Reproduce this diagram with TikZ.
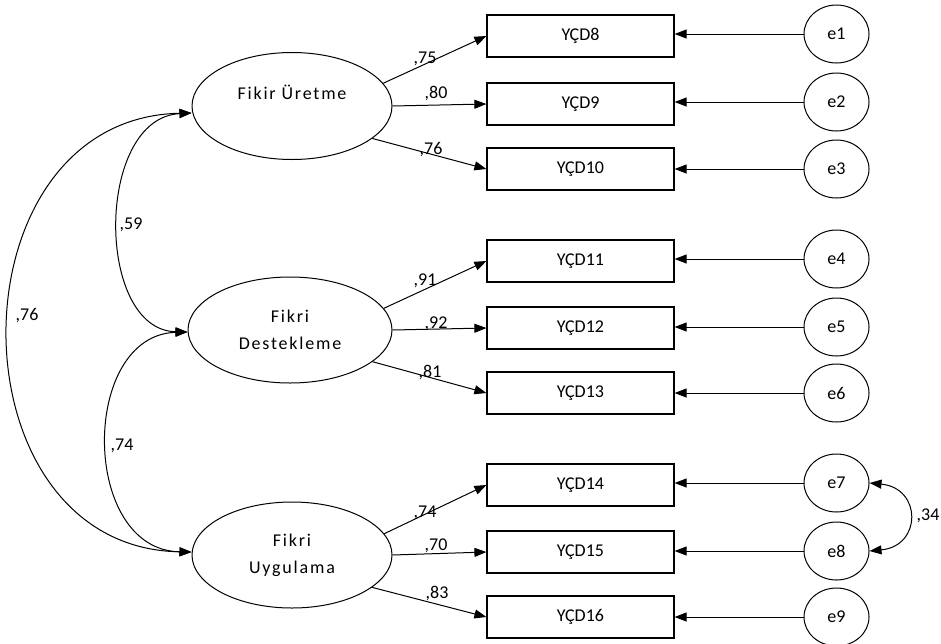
\documentclass[tikz,border=0pt]{standalone}
\usepackage{fontspec}
\setmainfont{Carlito}
\newfontfamily\wfont[LetterSpace=10]{Carlito}
\usetikzlibrary{shapes.geometric,arrows.meta,calc}
\begin{document}
\begin{tikzpicture}[x=1pt,y=-1pt,
  every node/.style={font=\fontsize{18}{21}\selectfont},
  lat/.style={ellipse, draw, line width=1pt, inner sep=0pt, align=center,
    minimum width=200pt, minimum height=107pt, font=\wfont\fontsize{18}{27}\selectfont},
  obs/.style={rectangle, draw, line width=1.2pt, minimum width=187pt, minimum height=42pt, inner sep=0pt},
  err/.style={ellipse, draw, line width=1pt, minimum width=65pt, minimum height=58pt, inner sep=0pt},
  arr/.style={-{Triangle[length=12pt,width=9pt]}, line width=1pt},
  cov/.style={{Triangle[length=12pt,width=9pt]}-{Triangle[length=12pt,width=9pt]}, line width=1pt},
  lbl/.style={anchor=base, inner sep=0pt}
]
\useasboundingbox (0,0) rectangle (941,643);

% latent variables
\node[lat] (ue) at (292,106) {Fikir Üretme\\ \mbox{}};
\node[lat, minimum width=204pt, minimum height=106pt] (fd) at (290,330) {Fikri\\Destekleme};
\node[lat, minimum height=106pt] (fu) at (292,555) {Fikri\\Uygulama};

% observed variables
\node[obs] (y8)  at (580.5,36)  {YÇD8};
\node[obs] (y9)  at (580.5,104) {YÇD9};
\node[obs] (y10) at (580.5,169) {YÇD10};
\node[obs] (y11) at (580.5,261) {YÇD11};
\node[obs] (y12) at (580.5,328) {YÇD12};
\node[obs] (y13) at (580.5,393) {YÇD13};
\node[obs] (y14) at (580.5,485) {YÇD14};
\node[obs] (y15) at (580.5,552) {YÇD15};
\node[obs] (y16) at (580.5,617) {YÇD16};

% error terms
\node[err] (e1) at (836.5,34)  {e1};
\node[err] (e2) at (836.5,102) {e2};
\node[err] (e3) at (836.5,169) {e3};
\node[err] (e4) at (836.5,259) {e4};
\node[err] (e5) at (836.5,327) {e5};
\node[err] (e6) at (836.5,393) {e6};
\node[err] (e7) at (836.5,483) {e7};
\node[err] (e8) at (836.5,551) {e8};
\node[err] (e9) at (836.5,617) {e9};

% loadings
\draw[arr] (ue.14) -- (y8.west);
\draw[arr] (ue.east) -- (y9.west);
\draw[arr] (ue.-22) -- (y10.west);
\draw[arr] (fd.13) -- (y11.west);
\draw[arr] (fd.east) -- (y12.west);
\draw[arr] (fd.-21) -- (y13.west);
\draw[arr] (fu.13) -- (y14.west);
\draw[arr] (fu.east) -- (y15.west);
\draw[arr] (fu.-22) -- (y16.west);

\node[lbl] (l75) at (425,63) {,75};
\node[lbl] (l80) at (436,98) {,80};
\node[lbl] (l76b) at (431,154) {,76};
\node[lbl] (l91) at (425,285) {,91};
\node[lbl] (l92) at (436,328) {,92};
\node[lbl] (l81) at (430,377) {,81};
\node[lbl] (l74b) at (425,517) {,74};
\node[lbl] (l70) at (436,550) {,70};
\node[lbl] (l83) at (437,598) {,83};

% error arrows
\foreach \e/\y in {e1/y8,e2/y9,e3/y10,e4/y11,e5/y12,e6/y13,e7/y14,e8/y15,e9/y16}
  \draw[arr] (\e.west) -- (\e.west -| \y.east);

% correlations between latent variables
\coordinate (tu) at ($(ue.west)+(0,7)$);
\coordinate (td) at ($(fd.west)+(0,2)$);
\coordinate (tf) at ($(fu.west)+(0,-3)$);
\draw[cov] (tu) .. controls (95,118) and (95,330) .. (td);
\draw[cov] (td) .. controls (80,335) and (80,550) .. (tf);
\draw[cov] (tu) .. controls (-52,118) and (-52,548) .. (tf);
\node[lbl] (l59) at (131,229) {,59};
\node[lbl] (l74) at (122,450) {,74};
\node[lbl] (l76) at (27,320) {,76};

% error covariance
\draw[cov] (e7.east) .. controls (922,488) and (922,546) .. (e8.east);
\node[lbl] (l34) at (928,520) {,34};
\end{tikzpicture}
\end{document}
